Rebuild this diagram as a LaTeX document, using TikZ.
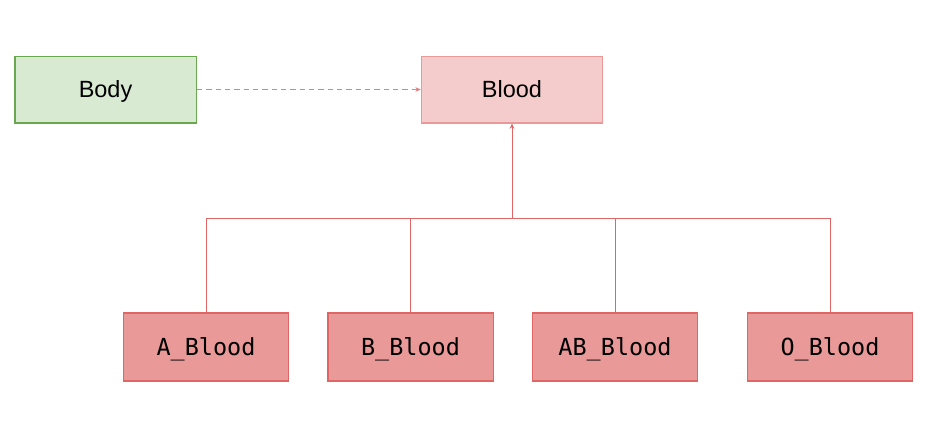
\documentclass[tikz,border=0pt]{standalone}
\usepackage{fontspec}
\setmainfont{Liberation Sans}
\setmonofont{DejaVu Sans Mono}
\usetikzlibrary{arrows.meta,positioning}
\definecolor{leafgreen}{HTML}{D9EAD3}
\definecolor{darkgreen}{HTML}{6AA84F}
\definecolor{palerose}{HTML}{F4CCCC}
\definecolor{rosedge}{HTML}{EA9999}
\definecolor{rose}{HTML}{EA9999}
\definecolor{redline}{HTML}{E06666}
\tikzset{
  cls/.style={draw,line width=1pt,minimum width=136pt,minimum height=50pt,inner sep=0pt,text height=12.7pt,text depth=0pt,font=\fontsize{17.6}{20}\selectfont},
  outer/.style={cls,draw=darkgreen,fill=leafgreen},
  base/.style={cls,draw=rosedge,fill=palerose},
  sub/.style={cls,draw=redline,fill=rose,minimum width=124pt,minimum height=51pt,font=\fontsize{17.6}{20}\selectfont\ttfamily},
  uses/.style={-{Stealth[length=4pt,width=3.5pt]},draw=redline!85,line width=0.55pt,dash pattern=on 4pt off 3pt},
  inherit/.style={draw=redline,line width=0.7pt}
}
\begin{document}
\begin{tikzpicture}[x=0.75pt,y=-0.75pt]
\useasboundingbox (0,0) rectangle (938,439);
\node[outer] (body) at (105.5,89.5) {Body};
\node[base] (blood) at (512,89.5) {Blood};
\draw[uses] (body) -- (blood);
\coordinate (join) at (512,218);
\draw[inherit,-{Stealth[length=4pt,width=3.5pt]}] (join) -- (blood);
\foreach \x/\name/\lab in {206/ablood/A\_Blood,410.5/bblood/B\_Blood,615/abblood/AB\_Blood,830/oblood/O\_Blood} {
  \node[sub] (\name) at (\x,347) {\lab};
  \draw[inherit] (\name.north) |- (join);
}
\end{tikzpicture}
\end{document}
